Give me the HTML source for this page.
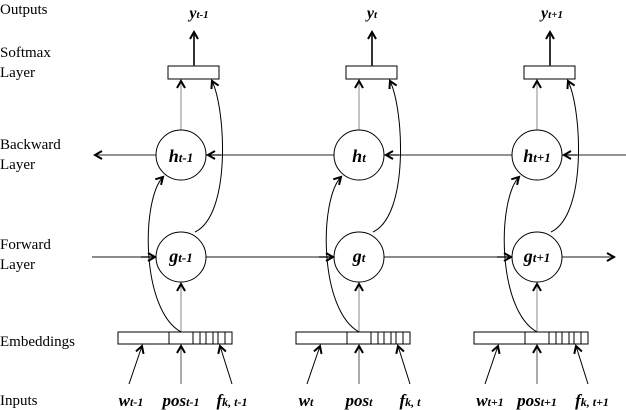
<!DOCTYPE html>
<html><head><style>
body{margin:0;background:#fff;}
svg{display:block;}
.l{font-family:"Liberation Serif",serif;font-size:15px;fill:#000;}
.m{font-family:"Liberation Serif",serif;font-style:italic;font-weight:bold;fill:#000;}
</style></head><body>
<svg width="626" height="410" viewBox="0 0 626 410" xmlns="http://www.w3.org/2000/svg">
<defs>
<marker id="a" markerWidth="10" markerHeight="10" refX="8" refY="5" orient="auto" markerUnits="userSpaceOnUse">
<path d="M1,1 L8,5 L1,9" fill="none" stroke="#000" stroke-width="2"/>
</marker>
<g id="c">
<rect x="-13" y="66" width="51" height="13" fill="#fff" stroke="#000" stroke-width="1"/>
<line x1="13" y1="66" x2="13" y2="32" stroke="#333" stroke-width="2" marker-end="url(#a)"/>
<line x1="0" y1="130" x2="0" y2="81" stroke="#888" stroke-width="1" marker-end="url(#a)"/>
<line x1="40" y1="155" x2="27" y2="155" stroke="#000" stroke-width="1" marker-end="url(#a)"/>
<circle cx="0" cy="155" r="25" fill="#fff" stroke="#000" stroke-width="1"/>
<circle cx="0" cy="257" r="25" fill="#fff" stroke="#000" stroke-width="1"/>
<line x1="-40" y1="257" x2="-26" y2="257" stroke="#000" stroke-width="1" marker-end="url(#a)"/>
<line x1="0" y1="332" x2="0" y2="284" stroke="#888" stroke-width="1" marker-end="url(#a)"/>
<path d="M0,332 C-40,310 -40,200 -18,177" fill="none" stroke="#000" stroke-width="1" marker-end="url(#a)"/>
<path d="M14,232 C50,215 45,110 31,81" fill="none" stroke="#000" stroke-width="1" marker-end="url(#a)"/>
<rect x="-63" y="332" width="114" height="12" fill="#fff" stroke="#000" stroke-width="1"/>
<path d="M-12,332V344M12,332V344M19,332V344M25,332V344M32,332V344M37,332V344M44,332V344" stroke="#000" stroke-width="1"/>
<line x1="-52" y1="384" x2="-39" y2="346" stroke="#000" stroke-width="1" marker-end="url(#a)"/>
<line x1="0" y1="384" x2="0" y2="346" stroke="#555" stroke-width="1" marker-end="url(#a)"/>
<line x1="51" y1="384" x2="39" y2="346" stroke="#000" stroke-width="1" marker-end="url(#a)"/>
</g>
</defs>
<text class="l" x="0" y="14">Outputs</text>
<text class="l" x="0" y="57">Softmax</text>
<text class="l" x="0" y="77">Layer</text>
<text class="l" x="0" y="149">Backward</text>
<text class="l" x="0" y="169">Layer</text>
<text class="l" x="0" y="249">Forward</text>
<text class="l" x="0" y="269">Layer</text>
<text class="l" x="0" y="346">Embeddings</text>
<text class="l" x="0" y="405">Inputs</text>

<line x1="626" y1="155" x2="95" y2="155" stroke="#555" stroke-width="1.2" marker-end="url(#a)"/>
<line x1="92" y1="257" x2="614" y2="257" stroke="#666" stroke-width="1.5" marker-end="url(#a)"/>

<use href="#c" transform="translate(181,0)"/>
<use href="#c" transform="translate(359,0)"/>
<use href="#c" transform="translate(537,0)"/>

<g class="m">
<text x="181" y="162" font-size="18" text-anchor="middle">h<tspan font-size="13">t-1</tspan></text>
<text x="359" y="162" font-size="18" text-anchor="middle">h<tspan font-size="13">t</tspan></text>
<text x="537" y="162" font-size="18" text-anchor="middle">h<tspan font-size="13">t+1</tspan></text>
<text x="181" y="262" font-size="18" text-anchor="middle">g<tspan font-size="13">t-1</tspan></text>
<text x="359" y="262" font-size="18" text-anchor="middle">g<tspan font-size="13">t</tspan></text>
<text x="537" y="262" font-size="18" text-anchor="middle">g<tspan font-size="13">t+1</tspan></text>
<text x="199" y="18" font-size="16" text-anchor="middle">y<tspan font-size="11">t-1</tspan></text>
<text x="372" y="18" font-size="16" text-anchor="middle">y<tspan font-size="11">t</tspan></text>
<text x="552" y="18" font-size="16" text-anchor="middle">y<tspan font-size="11">t+1</tspan></text>
<text x="131" y="406" font-size="17" text-anchor="middle">w<tspan font-size="12">t-1</tspan></text>
<text x="181" y="406" font-size="17" text-anchor="middle">pos<tspan font-size="12">t-1</tspan></text>
<text x="232" y="406" font-size="17" text-anchor="middle">f<tspan font-size="12">k, t-1</tspan></text>
<text x="306" y="406" font-size="17" text-anchor="middle">w<tspan font-size="12">t</tspan></text>
<text x="359" y="406" font-size="17" text-anchor="middle">pos<tspan font-size="12">t</tspan></text>
<text x="410" y="406" font-size="17" text-anchor="middle">f<tspan font-size="12">k, t</tspan></text>
<text x="490" y="406" font-size="17" text-anchor="middle">w<tspan font-size="12">t+1</tspan></text>
<text x="537" y="406" font-size="17" text-anchor="middle">pos<tspan font-size="12">t+1</tspan></text>
<text x="592" y="406" font-size="17" text-anchor="middle">f<tspan font-size="12">k, t+1</tspan></text>
</g>
</svg>
</body></html>
